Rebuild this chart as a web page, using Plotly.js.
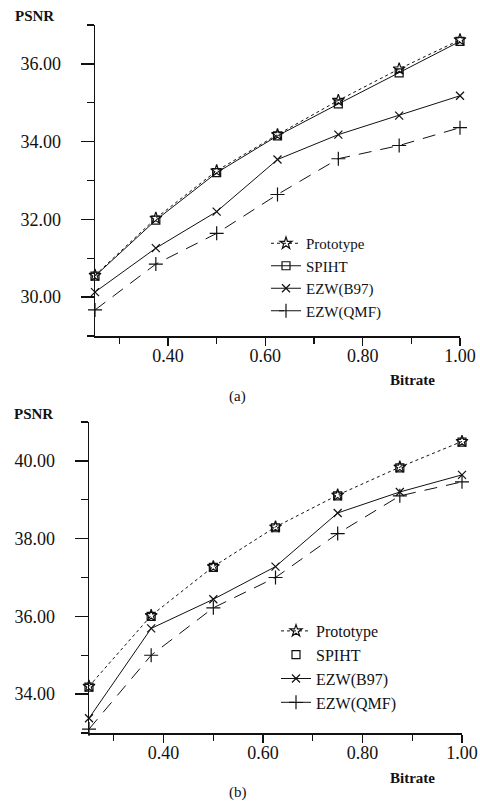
<!DOCTYPE html>
<html>
<head>
<meta charset="utf-8">
<script src="https://cdn.plot.ly/plotly-3.0.1.min.js"></script>
<style>html,body{margin:0;padding:0;background:#fff;}#chart{width:480px;height:803px;}</style>
</head>
<body>
<div id="chart"></div>
<script>
// ---- data ----
var bitrate = [0.25, 0.375, 0.5, 0.625, 0.75, 0.875, 1.0];
var seriesNames = ["Prototype", "SPIHT", "EZW(B97)", "EZW(QMF)"];
// chart (a)
var aPrototype = [30.56, 32.03, 33.25, 34.18, 35.06, 35.87, 36.62];
var aSPIHT     = [30.54, 31.98, 33.20, 34.15, 34.97, 35.77, 36.58];
var aB97       = [30.13, 31.26, 32.20, 33.54, 34.18, 34.67, 35.18];
var aQMF       = [29.67, 30.85, 31.64, 32.64, 33.56, 33.90, 34.36];
// chart (b)
var bPrototype = [34.20, 36.02, 37.28, 38.30, 39.12, 39.84, 40.50];
var bSPIHT     = [34.18, 36.00, 37.26, 38.28, 39.10, 39.82, 40.48];
var bB97       = [33.38, 35.69, 36.44, 37.28, 38.66, 39.20, 39.64];
var bQMF       = [33.10, 35.00, 36.22, 37.00, 38.13, 39.10, 39.46];
var yTitle = "PSNR", xTitle = "Bitrate", panelA = "(a)", panelB = "(b)";

var serif = "Liberation Serif, DejaVu Serif, Noto Serif, Times New Roman, Times, serif";
var blk = "#111";

function tr(name, y, xa, ya, leg, mode, dash, sym, msize) {
  return {
    x: bitrate, y: y, name: name, xaxis: xa, yaxis: ya, legend: leg,
    mode: mode, cliponaxis: false,
    line: {color: blk, width: 1, dash: dash},
    marker: {symbol: sym, size: msize, color: blk, line: {color: blk, width: 1.2}}
  };
}

var data = [
  tr(seriesNames[0], aPrototype, "x", "y", "legend", "lines+markers", "dot", "star-open", 9),
  tr(seriesNames[1], aSPIHT, "x", "y", "legend", "lines+markers", "solid", "square-open", 8),
  tr(seriesNames[2], aB97, "x", "y", "legend", "lines+markers", "solid", "x-thin-open", 8),
  tr(seriesNames[3], aQMF, "x", "y", "legend", "lines+markers", "13px,9px", "cross-thin-open", 10),
  tr(seriesNames[0], bPrototype, "x2", "y2", "legend2", "lines+markers", "dot", "star-open", 9),
  tr(seriesNames[1], bSPIHT, "x2", "y2", "legend2", "markers", "solid", "square-open", 8),
  tr(seriesNames[2], bB97, "x2", "y2", "legend2", "lines+markers", "solid", "x-thin-open", 8),
  tr(seriesNames[3], bQMF, "x2", "y2", "legend2", "lines+markers", "13px,9px", "cross-thin-open", 10)
];

function xax(domain, anchor) {
  return {
    domain: domain, anchor: anchor, range: [0.25, 1.0], showgrid: false, zeroline: false,
    showline: true, linecolor: blk, linewidth: 1.5,
    tick0: 0, dtick: 0.2, tickformat: ".2f", ticks: "outside", ticklen: 8, tickwidth: 1.3, tickcolor: blk,
    ticklabelstandoff: -5,
    minor: {dtick: 0.1, tick0: 0, ticks: "outside", ticklen: 6, tickcolor: blk, tickwidth: 1.2, showgrid: false},
    tickfont: {family: serif, size: 18, color: blk}
  };
}
function yax(domain, anchor, range) {
  return {
    domain: domain, anchor: anchor, range: range, showgrid: false, zeroline: false,
    showline: true, linecolor: blk, linewidth: 1.5,
    tick0: 0, dtick: 2, tickformat: ".2f", ticks: "outside", ticklen: 13, tickwidth: 1.3, tickcolor: blk,
    ticklabelstandoff: 16,
    minor: {dtick: 1, tick0: 0, ticks: "outside", ticklen: 7, tickcolor: blk, tickwidth: 1.2, showgrid: false},
    tickfont: {family: serif, size: 18, color: blk}
  };
}

function legendCfg(x, y, fs) {
  return {
    x: x, y: y, xanchor: "left", yanchor: "top", bgcolor: "rgba(0,0,0,0)",
    font: {family: serif, size: fs, color: blk}, tracegroupgap: 0, itemwidth: 30
  };
}

function ann(text, x, y, size, bold) {
  return {
    text: bold ? "<b>" + text + "</b>" : text, x: x, y: y, xref: "paper", yref: "paper",
    xanchor: "center", yanchor: "middle", showarrow: false,
    font: {family: serif, size: size, color: blk}
  };
}

var H = 803, W = 480;
var layout = {
  width: W, height: H, margin: {l: 0, r: 0, t: 0, b: 0},
  paper_bgcolor: "#fff", plot_bgcolor: "#fff", showlegend: true,
  font: {family: serif, color: blk},
  xaxis: xax([95 / W, 460 / W], "y"),
  yaxis: yax([1 - 336 / H, 1 - 25 / H], "x", [29, 37]),
  xaxis2: xax([89 / W, 462 / W], "y2"),
  yaxis2: yax([1 - 733 / H, 1 - 422 / H], "x2", [33, 41]),
  legend: legendCfg(266 / W, 1 - 227 / H, 15),
  legend2: legendCfg(276 / W, 1 - 614 / H, 16),
  annotations: [
    ann(yTitle, 34 / W, 1 - 16 / H, 15, true),
    ann(xTitle, 412 / W, 1 - 380 / H, 15, true),
    ann(panelA, 237 / W, 1 - 396 / H, 15, false),
    ann(yTitle, 33 / W, 1 - 414 / H, 15, true),
    ann(xTitle, 412 / W, 1 - 778 / H, 15, true),
    ann(panelB, 238 / W, 1 - 792 / H, 15, false)
  ]
};

Plotly.newPlot("chart", data, layout, {displayModeBar: false, staticPlot: true});
</script>
</body>
</html>
